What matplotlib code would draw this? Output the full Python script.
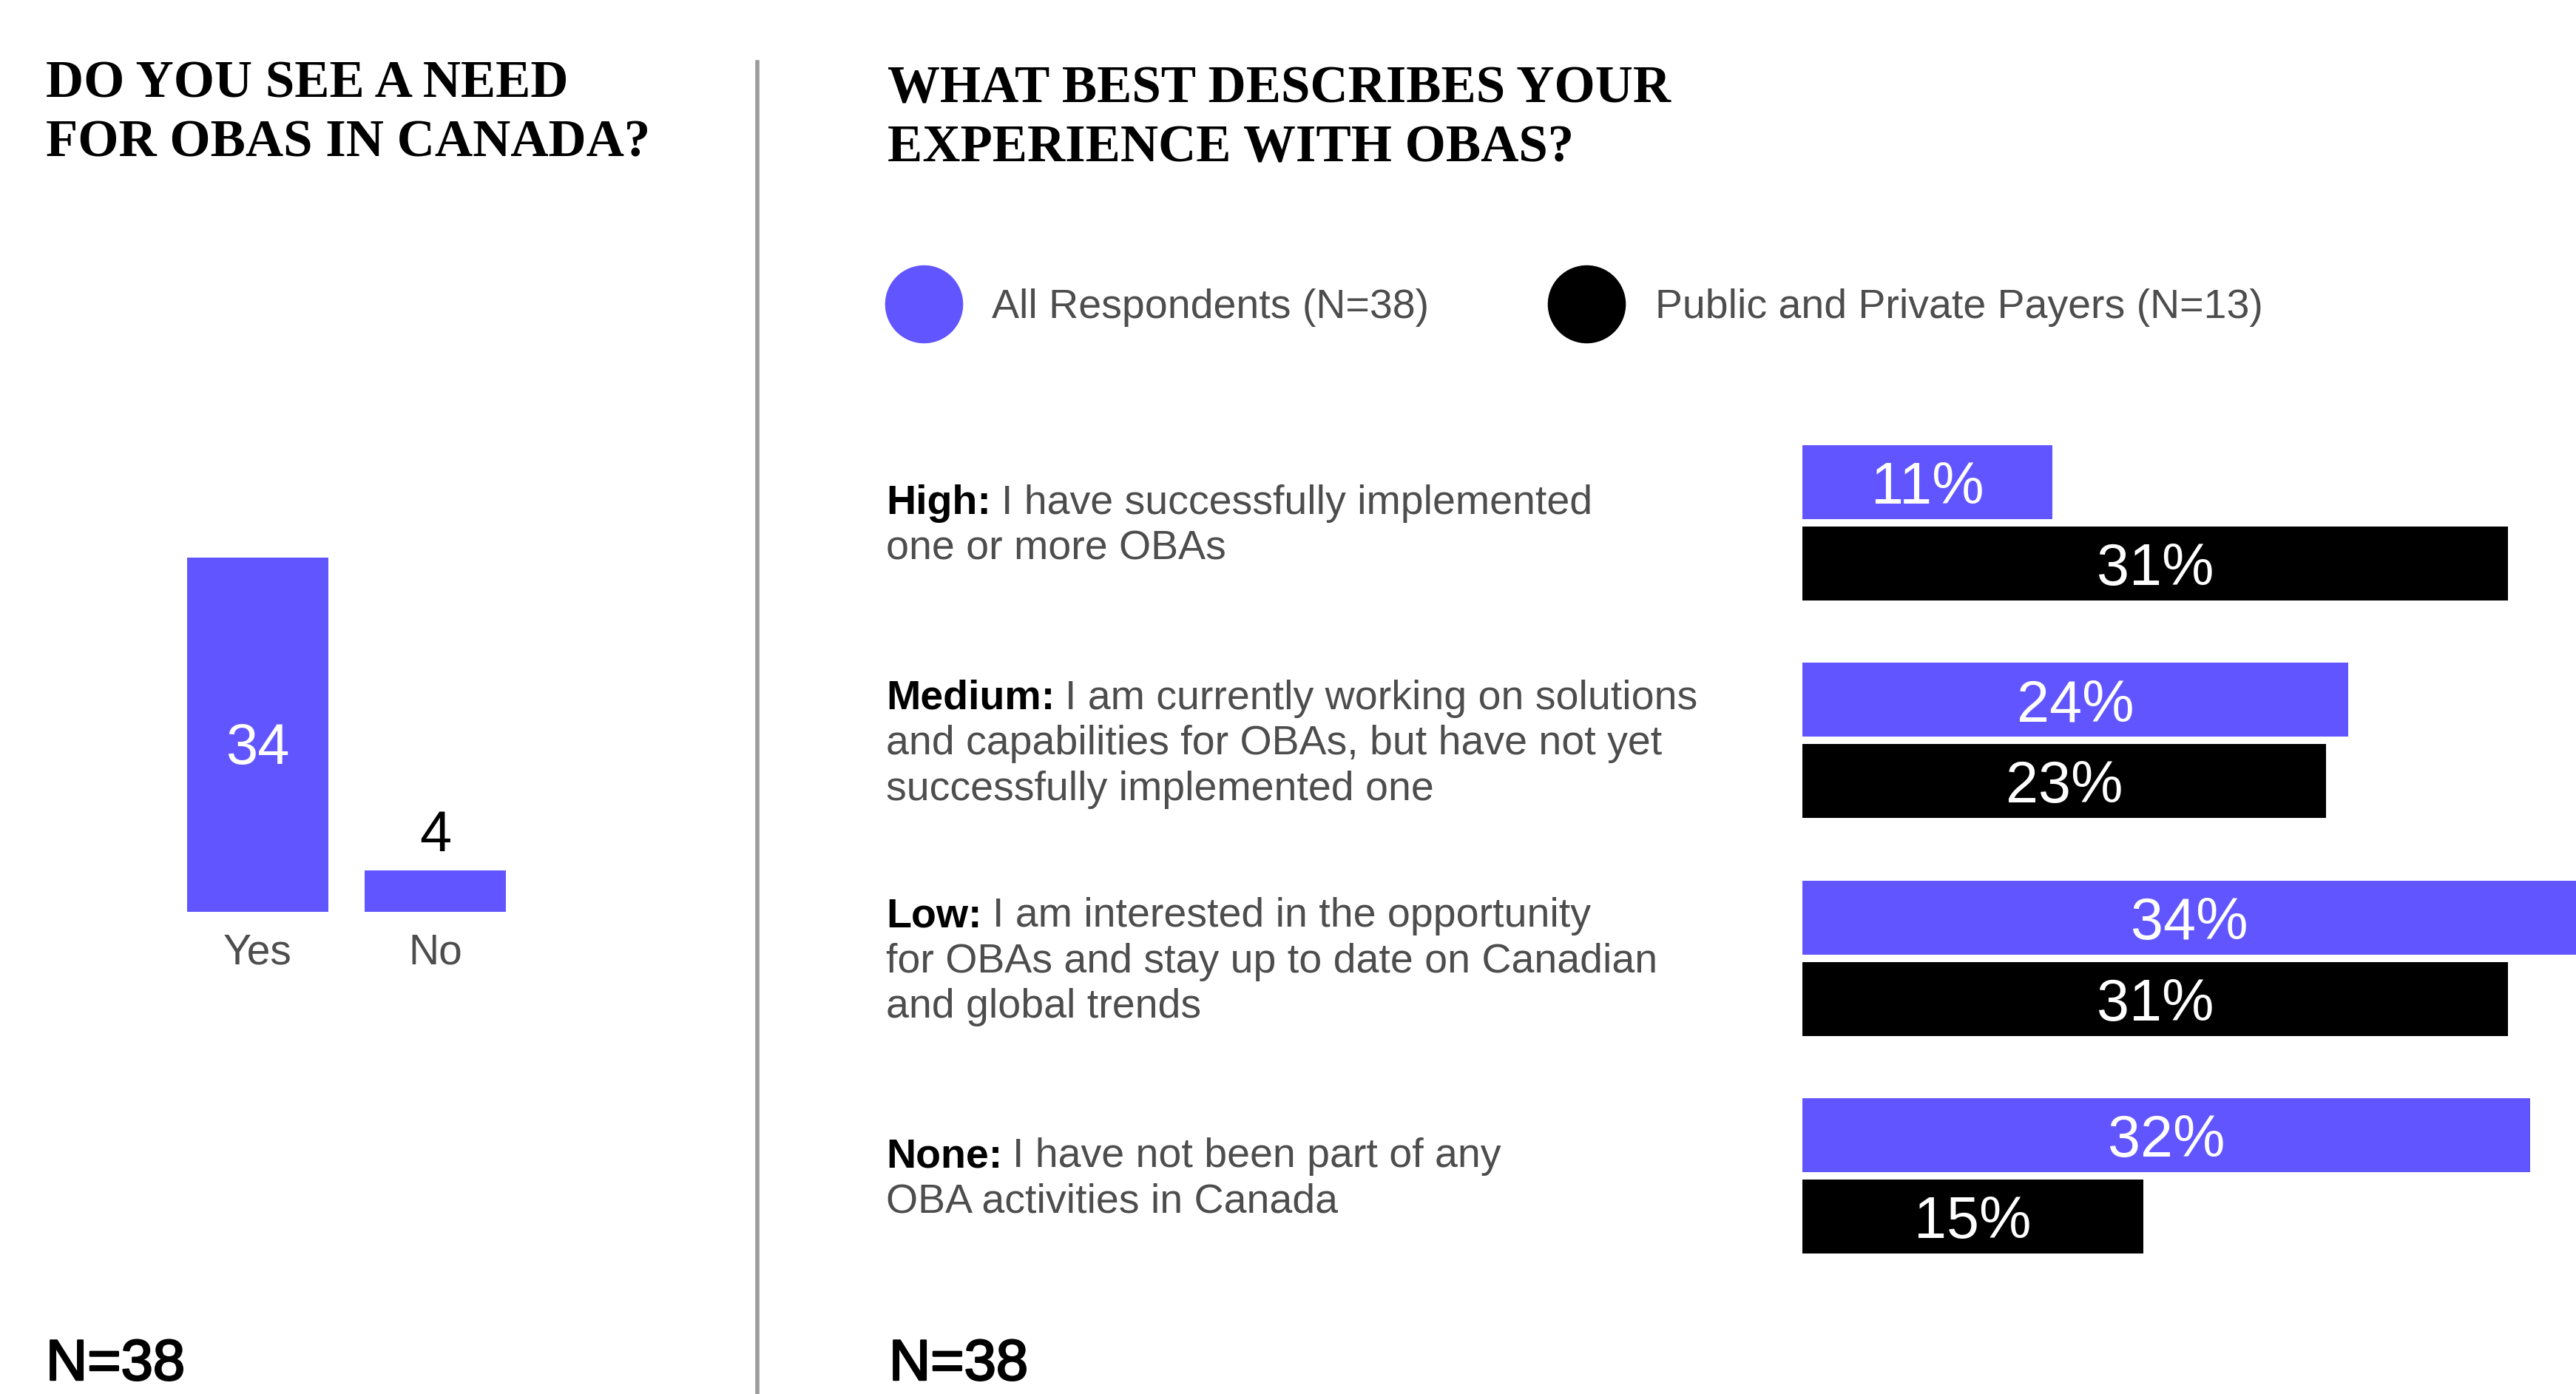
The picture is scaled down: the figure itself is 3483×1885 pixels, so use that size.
import matplotlib
matplotlib.use("Agg")
import matplotlib.pyplot as plt
import matplotlib.transforms as mtransforms
import matplotlib.patheffects as pe
from matplotlib.lines import Line2D
import numpy as np

# data
need_labels = ['Yes', 'No']
need_counts = [34, 4]

levels = ['High:', 'Medium:', 'Low:', 'None:']
level_lines = [
    ['I have successfully implemented', 'one or more OBAs'],
    ['I am currently working on solutions', 'and capabilities for OBAs, but have not yet',
     'successfully implemented one'],
    ['I am interested in the opportunity', 'for OBAs and stay up to date on Canadian',
     'and global trends'],
    ['I have not been part of any', 'OBA activities in Canada'],
]
all_pct = [11, 24, 34, 32]
payer_pct = [31, 23, 31, 15]
series_names = ['All Respondents (N=38)', 'Public and Private Payers (N=13)']

left_title = ['DO YOU SEE A NEED', 'FOR OBAS IN CANADA?']
right_title = ['WHAT BEST DESCRIBES YOUR', 'EXPERIENCE WITH OBAS?']
n_note = 'N=38'

PURPLE = '#6155FF'
GREY = '#4d4d4d'
SANS = ['Liberation Sans', 'DejaVu Sans']
SERIF = ['Liberation Serif', 'DejaVu Serif']

W, H = 3483, 1885
plt.rcParams['font.family'] = SANS

fig = plt.figure(figsize=(W / 100, H / 100), dpi=100)


def fx(px):
    return px / W


def fy(py):
    return 1 - py / H


# titles
for i, line in enumerate(left_title):
    fig.text(fx(62), fy(132 + i * 80), line, family=SERIF, weight='bold',
             fontsize=51, va='baseline', ha='left', color='black')
for i, line in enumerate(right_title):
    fig.text(fx(1200), fy(138 + i * 80), line, family=SERIF, weight='bold',
             fontsize=51, va='baseline', ha='left', color='black')

# divider
fig.add_artist(Line2D([fx(1024), fx(1024)], [fy(84), 0], transform=fig.transFigure,
                      color='#9c9c9c', lw=4))

# left panel: bars
ax1 = fig.add_axes([fx(253), fy(1233), (684 - 253) / W, (1233 - 754) / H])
x1 = np.arange(len(need_counts))
ax1.bar(x1, need_counts, width=0.796, color=PURPLE)
ax1.set_xlim(-0.398, 1.398)
ax1.set_ylim(0, 34)
ax1.axis('off')
for i, v in enumerate(need_counts):
    if v > 10:
        ax1.annotate(str(v), xy=(i, v / 2), xytext=(0, -11), textcoords='offset pixels',
                     ha='center', va='center_baseline', color='white', fontsize=56)
    else:
        ax1.annotate(str(v), xy=(i, v), xytext=(0, 26), textcoords='offset pixels',
                     ha='center', va='baseline', color='black', fontsize=56)
    ax1.annotate(need_labels[i], xy=(i, 0), xytext=(0, -71), textcoords='offset pixels',
                 ha='center', va='baseline', color=GREY, fontsize=41, annotation_clip=False)

# right panel: horizontal bars
ax2 = fig.add_axes([fx(2437), fy(1737), (W - 2437) / W, (1737 - 560) / H])
y2 = np.arange(len(levels))
off = 0.187
ax2.barh(y2 - off, all_pct, height=0.34, color=PURPLE)
ax2.barh(y2 + off, payer_pct, height=0.34, color='black')
ax2.set_xlim(0, 34)
ax2.set_ylim(3.5, -0.5)
ax2.axis('off')
for i in range(len(levels)):
    ax2.text(all_pct[i] / 2, y2[i] - off, f'{all_pct[i]}%', ha='center',
             va='center_baseline', color='white', fontsize=57)
    ax2.text(payer_pct[i] / 2, y2[i] + off, f'{payer_pct[i]}%', ha='center',
             va='center_baseline', color='white', fontsize=57)

# category descriptions
blend = mtransforms.blended_transform_factory(fig.transFigure, ax2.transData)
pitch = 61.5
for i, (lvl, lines) in enumerate(zip(levels, level_lines)):
    n = len(lines)
    for k, line in enumerate(lines):
        down = -(n - 1) * pitch / 2 + 19 + k * pitch
        tr = mtransforms.offset_copy(blend, fig=fig, x=0, y=-down, units='dots')
        if k == 0:
            t = fig.text(fx(1198), y2[i], lvl, transform=tr, weight='bold', fontsize=40,
                         va='baseline', ha='left', color='black')
            fig.add_artist(plt.Annotation(line, xy=(1, 0), xycoords=t, xytext=(14, 0),
                                          textcoords='offset pixels', va='bottom', ha='left',
                                          fontsize=40, color=GREY))
        else:
            fig.text(fx(1198), y2[i], line, transform=tr, fontsize=40,
                     va='baseline', ha='left', color=GREY)

# legend
handles = [Line2D([], [], marker='o', linestyle='none', markersize=75, color=c)
           for c in [PURPLE, 'black']]
fig.legend(handles, series_names, loc='center left', bbox_to_anchor=(fx(1197), fy(416)),
           ncol=2, frameon=False, fontsize=40, handlelength=1.875, handletextpad=0.72,
           columnspacing=2.9, borderpad=0, borderaxespad=0, labelcolor=GREY)

# sample sizes
thick = [pe.withStroke(linewidth=1.8, foreground='black')]
fig.text(fx(62), fy(1866), n_note, fontsize=56, va='baseline', ha='left', color='black',
         path_effects=thick)
fig.text(fx(1202), fy(1866), n_note, fontsize=56, va='baseline', ha='left', color='black',
         path_effects=thick)

fig.savefig('out.png', dpi=100, facecolor='white')
